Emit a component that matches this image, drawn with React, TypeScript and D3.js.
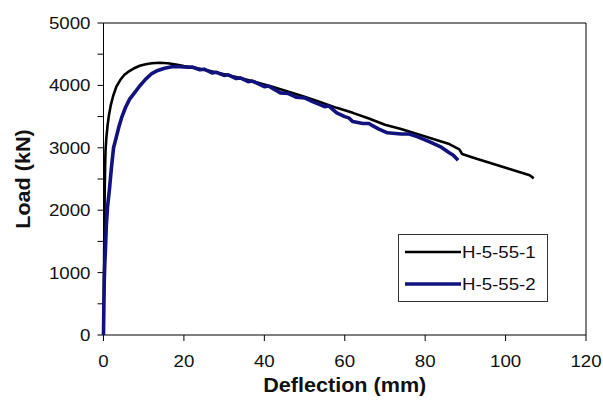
import React from "react";
import * as d3 from "d3";

const xTicks = [0, 20, 40, 60, 80, 100, 120];
const yMajor = [0, 1000, 2000, 3000, 4000, 5000];
const yMinor = [500, 1500, 2500, 3500, 4500];

const seriesNames = ["H-5-55-1", "H-5-55-2"];
const seriesColors = ["#000000", "#12127e"];

const defl1 = [0, 0.1, 0.2, 0.3, 0.4, 0.5, 0.7, 1.0, 1.3, 1.8, 2.4, 3.2, 4.2, 5.2, 6.2, 7.5, 9, 10.5, 12, 14, 16, 18, 20, 23, 26, 30, 34, 38, 42, 46, 50, 54, 58, 62, 66, 70, 74, 78, 82, 86, 88.5, 89.2, 92, 95, 98, 101, 104, 106, 107];
const load1 = [0, 800, 1600, 2300, 2700, 2950, 3150, 3350, 3500, 3680, 3830, 3980, 4090, 4170, 4220, 4270, 4315, 4340, 4355, 4362, 4355, 4335, 4310, 4280, 4240, 4180, 4120, 4050, 3980, 3900, 3820, 3730, 3640, 3560, 3470, 3370, 3300, 3220, 3140, 3060, 2975, 2900, 2840, 2780, 2720, 2660, 2600, 2560, 2510];

const defl2 = [0, 0.1, 0.2, 0.3, 0.5, 0.7, 1.0, 1.5, 2.0, 2.5, 3.1, 3.8, 4.6, 5.5, 6.5, 7.7, 9, 10.5, 12, 13.5, 15.2, 17, 19, 21, 22, 24, 25, 27, 28, 30, 31, 33, 34, 36, 37, 40, 41, 44, 46, 48, 50, 52, 55, 56, 58, 60, 61, 62, 64.5, 66, 67, 68.5, 70.6, 74, 76, 78, 81, 84, 86, 87, 88.2];
const load2 = [0, 500, 900, 1100, 1400, 1750, 2050, 2350, 2700, 3000, 3150, 3330, 3500, 3650, 3780, 3880, 3990, 4100, 4190, 4240, 4275, 4300, 4300, 4290, 4295, 4250, 4260, 4200, 4210, 4160, 4170, 4110, 4120, 4060, 4070, 3980, 3990, 3880, 3870, 3810, 3800, 3740, 3660, 3670, 3560, 3500, 3480, 3420, 3390, 3390, 3350, 3300, 3240, 3220, 3220, 3180, 3100, 3010, 2920, 2880, 2800];

const W = 603;
const H = 400;
const x = d3.scaleLinear().domain([0, 120]).range([103.5, 586]);
const y = d3.scaleLinear().domain([0, 5000]).range([335, 23]);

const font = "'Liberation Sans', Arial, sans-serif";

export default function App() {
  const line = d3
    .line<[number, number]>()
    .x((d) => x(d[0]))
    .y((d) => y(d[1]));
  const s1 = defl1.map((d, i) => [d, load1[i]] as [number, number]);
  const s2 = defl2.map((d, i) => [d, load2[i]] as [number, number]);
  const X0 = x(0);
  const X1 = x(120);
  const Y0 = y(0);
  const Y1 = y(5000);
  const sx = 1.1;
  return (
    <svg
      width={W}
      height={H}
      style={{ position: "absolute", left: 0, top: 0, background: "#fff" }}
      fontFamily={font}
    >
      <rect x={0} y={0} width={W} height={H} fill="#fff" />
      {/* frame */}
      <line x1={X0} x2={X1} y1={Y1} y2={Y1} stroke="#000" strokeWidth={1} />
      <line x1={X1} x2={X1} y1={Y1} y2={Y0} stroke="#000" strokeWidth={1} />
      <line x1={X0} x2={X1} y1={Y0} y2={Y0} stroke="#000" strokeWidth={1} />
      <line x1={X0} x2={X0} y1={Y1} y2={Y0} stroke="#000" strokeWidth={1} />
      {/* y ticks */}
      {[...yMajor, ...yMinor].map((v) => (
        <line key={"yt" + v} x1={X0 - 6} x2={X0} y1={y(v)} y2={y(v)} stroke="#000" strokeWidth={1} />
      ))}
      {yMajor.map((v) => (
        <text
          key={"yl" + v}
          transform={`translate(${X0 - 13},${y(v) + 6}) scale(${sx},1)`}
          textAnchor="end"
          fontSize={17}
          fill="#111"
        >
          {v}
        </text>
      ))}
      {/* x ticks */}
      {xTicks.map((v) => (
        <line key={"xt" + v} x1={x(v)} x2={x(v)} y1={Y0} y2={Y0 + 6} stroke="#000" strokeWidth={1} />
      ))}
      {xTicks.map((v) => (
        <text
          key={"xl" + v}
          transform={`translate(${x(v)},${Y0 + 32}) scale(${sx},1)`}
          textAnchor="middle"
          fontSize={17}
          fill="#111"
        >
          {v}
        </text>
      ))}
      {/* axis titles */}
      <text
        transform={`translate(${(X0 + X1) / 2},392) scale(1.08,1)`}
        textAnchor="middle"
        fontSize={20}
        fontWeight="bold"
        fill="#111"
      >
        Deflection (mm)
      </text>
      <text
        transform={`translate(30,${(Y0 + Y1) / 2}) rotate(-90) scale(1.08,1)`}
        textAnchor="middle"
        fontSize={20}
        fontWeight="bold"
        fill="#111"
      >
        Load (kN)
      </text>
      {/* series */}
      <path d={line(s1) || ""} fill="none" stroke={seriesColors[0]} strokeWidth={2.6} strokeLinejoin="round" />
      <path d={line(s2) || ""} fill="none" stroke={seriesColors[1]} strokeWidth={3.6} strokeLinejoin="round" />
      {/* legend */}
      <rect x={398.5} y={234.5} width={149} height={67} fill="#fff" stroke="#333" strokeWidth={1} />
      {seriesNames.map((n, i) => (
        <g key={n}>
          <line
            x1={405}
            x2={461}
            y1={252 + i * 32}
            y2={252 + i * 32}
            stroke={seriesColors[i]}
            strokeWidth={i === 0 ? 2.6 : 3.6}
          />
          <text
            transform={`translate(462,${258 + i * 32}) scale(${sx},1)`}
            fontSize={17}
            fill="#111"
          >
            {n}
          </text>
        </g>
      ))}
    </svg>
  );
}
